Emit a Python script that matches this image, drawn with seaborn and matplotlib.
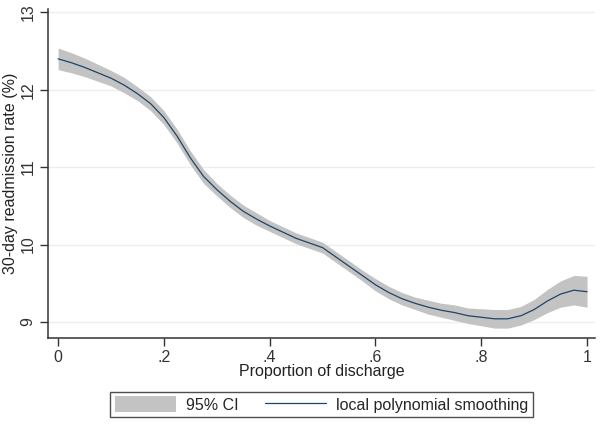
import numpy as np
import pandas as pd
import matplotlib
matplotlib.use("Agg")
import matplotlib.pyplot as plt
from matplotlib.patches import Patch
from matplotlib.lines import Line2D
import seaborn as sns

LINE_COLOR = "#1f4468"
BAND_COLOR = "#c3c3c3"
FONT_SIZE = 11.5

# proportion of discharge (x) and smoothed readmission rate
proportion = [
    0.000, 0.025, 0.050, 0.075, 0.100, 0.125, 0.150, 0.175, 0.200, 0.225,
    0.250, 0.275, 0.300, 0.325, 0.350, 0.375, 0.400, 0.425, 0.450, 0.475,
    0.500, 0.525, 0.550, 0.575, 0.600, 0.625, 0.650, 0.675, 0.700, 0.725,
    0.750, 0.775, 0.800, 0.825, 0.850, 0.875, 0.900, 0.925, 0.950, 0.975,
    1.000,
]
readmission = [
    12.40, 12.35, 12.29, 12.22, 12.15, 12.06, 11.95, 11.82, 11.64, 11.40,
    11.12, 10.88, 10.71, 10.56, 10.43, 10.33, 10.24, 10.16, 10.08, 10.02,
    9.96, 9.84, 9.72, 9.60, 9.48, 9.38, 9.30, 9.24, 9.19, 9.15,
    9.12, 9.08, 9.06, 9.04, 9.04, 9.08, 9.16, 9.27, 9.36, 9.41,
    9.39,
]
# half width of the 95% CI at each point
ci_half = [
    0.14, 0.13, 0.12, 0.11, 0.10, 0.10, 0.09, 0.09, 0.09, 0.09,
    0.09, 0.09, 0.08, 0.08, 0.08, 0.08, 0.07, 0.07, 0.07, 0.07,
    0.07, 0.07, 0.07, 0.07, 0.08, 0.08, 0.08, 0.08, 0.09, 0.09,
    0.10, 0.10, 0.11, 0.12, 0.12, 0.12, 0.13, 0.15, 0.17, 0.19,
    0.20,
]
x_ticks = [0, 0.2, 0.4, 0.6, 0.8, 1.0]
x_tick_labels = ["0", ".2", ".4", ".6", ".8", "1"]
y_ticks = [9, 10, 11, 12, 13]

sns.set_style("white")
plt.rcParams["font.family"] = ["Liberation Sans", "DejaVu Sans"]
plt.rcParams["axes.edgecolor"] = "#333333"

df = pd.DataFrame({"proportion": proportion, "rate": readmission, "half": ci_half})
df["lo"] = df["rate"] - df["half"]
df["hi"] = df["rate"] + df["half"]

fig = plt.figure(figsize=(6.01, 4.24), dpi=100)
ax = fig.add_axes([0.08, 0.203, 0.91, 0.775])

for y in y_ticks:
    ax.axhline(y, color="#eeeeee", lw=1.0, zorder=0)

ax.fill_between(df["proportion"], df["lo"], df["hi"], color=BAND_COLOR, lw=0, zorder=1)
sns.lineplot(data=df, x="proportion", y="rate", color=LINE_COLOR, lw=0.9, ax=ax, zorder=2)

ax.set_xlim(-0.019, 1.015)
ax.set_ylim(8.793, 13.04)
ax.set_xticks(x_ticks)
ax.set_xticklabels(x_tick_labels)
ax.set_yticks(y_ticks)
ax.set_yticklabels([str(v) for v in y_ticks], rotation=90, va="center")
ax.tick_params(axis="both", direction="out", length=6, width=1, color="#333333",
               labelsize=FONT_SIZE, labelcolor="#333333", bottom=True, left=True, pad=3)
sns.despine(ax=ax)
ax.spines["left"].set_linewidth(1.1)
ax.spines["bottom"].set_linewidth(1.1)

ax.set_xlabel("Proportion of discharge", fontsize=FONT_SIZE, color="#222222", labelpad=-1)
ax.set_ylabel("30-day readmission rate (%)", fontsize=FONT_SIZE, color="#222222", labelpad=2)

handles = [
    Patch(facecolor=BAND_COLOR, edgecolor="none"),
    Line2D([], [], color=LINE_COLOR, lw=0.9),
]
leg = fig.legend(
    handles, ["95% CI", "local polynomial smoothing"], ncol=2,
    loc="center", bbox_to_anchor=(0.535, 0.046), frameon=True, fancybox=False,
    fontsize=FONT_SIZE, handlelength=3.8, handleheight=1.1, columnspacing=1.7,
    handletextpad=0.6, borderpad=0.3, borderaxespad=0,
)
leg.get_frame().set_edgecolor("#222222")
leg.get_frame().set_linewidth(1.0)

fig.savefig("out.png", dpi=100)
